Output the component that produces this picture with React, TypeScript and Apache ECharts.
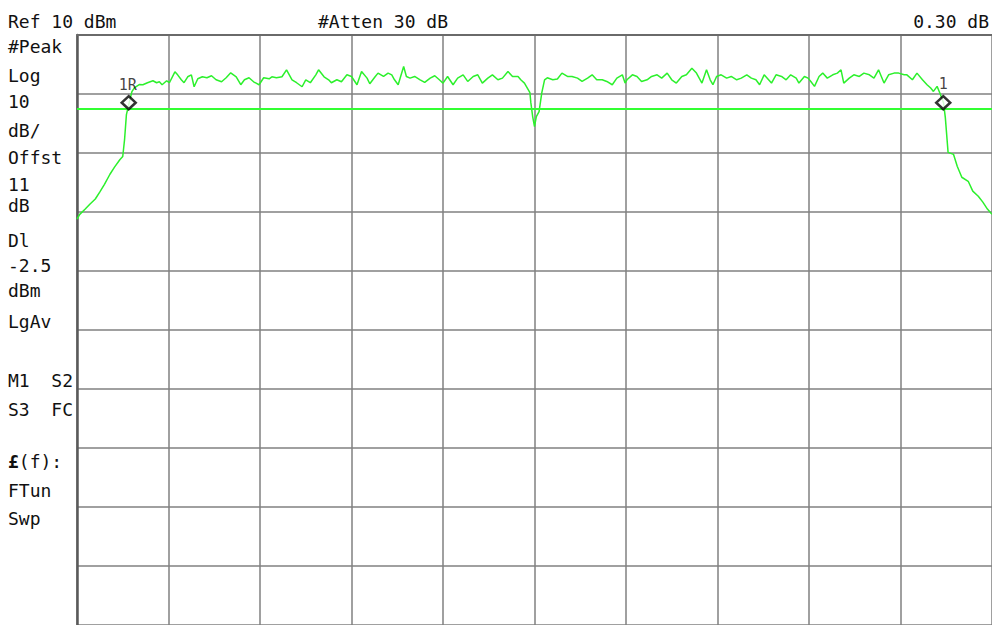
import React, { useEffect, useRef } from "react";
import * as echarts from "echarts";

// Frequency position across the 10-division span (0..1000 span units)
const FREQ = [
  0, 3, 9, 14, 20, 25, 30, 36, 41, 47, 50, 52, 54, 57, 60, 63, 68,
  72, 77, 83, 87, 90, 93, 98, 101, 107, 110, 114, 117, 121, 125, 128, 132, 137, 142, 147, 152, 158, 163, 168, 174, 179, 183, 188, 193, 199, 204, 210, 213, 218, 224, 229, 235, 240, 246, 250, 255, 261, 264, 270, 275, 278, 284, 289,
  295, 300, 306, 311, 317, 320, 326, 329, 335, 340, 344, 347, 351, 357, 360, 364, 369, 375, 380, 386, 391, 396, 400, 405, 411, 416, 422, 427, 433, 438, 443, 449, 454, 460, 465, 471, 476, 482, 485, 489,
  495, 496, 498, 500, 502, 505, 508, 511, 514,
  520, 525, 530, 536, 541, 547, 552, 558, 563, 568, 574, 579, 585, 590, 596, 599,
  601, 607, 612, 617, 623, 628, 634, 639, 645, 650, 655, 661, 666, 672, 677, 683, 688, 692, 695, 699, 704, 710, 715, 721, 726, 732, 737, 742, 746, 751,
  759, 764, 770, 775, 780, 786, 789, 795, 799, 802, 806, 811, 815, 820, 826, 831, 835, 838, 844, 849, 855, 860, 866, 871, 876, 882, 887, 893, 898, 904, 907, 913, 918, 924, 929, 933, 936, 940, 943,
  947, 949, 952, 958, 962, 967, 974, 979, 985, 990, 995, 1000,
];

// Trace level in dBm
const LEVEL = [
  -21.2, -20.4, -19.5, -18.7, -17.8, -16.6, -15.3, -13.6, -12.4, -11.1, -10.6, -7.7, -3.5, -1.5, 0.4, 1.1, 1.6,
  1.57, 1.91, 2.24, 1.91, 2.07, 1.57, 2.24, 1.91, 3.76, 3.25, 2.41, 1.91, 2.92, 3.25, 1.23, 2.58, 2.92, 2.75, 3.09, 2.41, 2.07, 2.75, 3.59, 2.92, 1.57, 2.41, 2.75, 2.07, 1.57, 2.75, 2.58, 2.92, 2.75, 2.92, 4.1, 2.41, 1.91, 1.23, 2.41, 1.91, 3.25, 4.1, 2.92, 2.41, 1.91, 2.41, 2.07,
  3.25, 2.97, 1.57, 3.81, 2.69, 1.74, 2.97, 3.54, 2.97, 3.54, 3.25, 2.41, 1.57, 4.65, 2.97, 2.69, 2.97, 2.41, 1.96, 2.69, 3.09, 2.41, 1.85, 2.97, 1.57, 2.69, 3.25, 2.13, 2.97, 3.25, 1.85, 2.69, 3.25, 2.41, 2.69, 3.81, 2.97, 2.97, 2.41, 1.85,
  0.22, -1.47, -3.83, -5.51, -3.83, -2.98, 0.22, 2.41, 2.75,
  2.41, 2.53, 3.54, 2.97, 2.97, 2.69, 2.13, 2.69, 3.25, 2.41, 2.41, 2.13, 1.57, 2.69, 3.25, 1.85,
  2.41, 3.25, 2.97, 2.13, 2.41, 2.97, 3.25, 2.69, 3.54, 2.41, 1.85, 2.97, 3.25, 4.38, 3.54, 1.85, 4.1, 2.41, 1.57, 2.97, 3.25, 2.69, 2.97, 2.41, 2.69, 3.25, 2.69, 2.41, 1.57, 3.25,
  1.85, 3.25, 2.97, 2.41, 3.25, 2.69, 1.85, 2.97, 2.69, 2.13, 1.29, 2.97, 3.54, 2.69, 3.25, 3.54, 4.1, 1.85, 2.69, 3.25, 2.97, 3.54, 3.25, 2.69, 4.1, 1.85, 3.25, 3.54, 3.54, 3.25, 3.25, 2.41, 3.54, 2.41, 1.57, 1.01, 0.44, 1.29, 0.17,
  -1.47, -4.0, -9.9, -10.24, -12.26, -14.11, -14.79, -16.47, -17.32, -18.33, -19.51, -20.4,
];

const MARKER_FREQ = [56.5, 946.7];
const MARKER_LEVEL = [-1.47, -1.47];
const MARKER_NAMES = ["1R", "1"];

const DISPLAY_LINE = -2.5; // dBm
const REF_LEVEL = 10; // dBm
const DB_PER_DIV = 10;

const HEADER_LEFT = "Ref 10 dBm";
const HEADER_MID = "#Atten 30 dB";
const HEADER_RIGHT = "0.30 dB";

const SIDE_TEXT = [
  "#Peak", "Log", "10", "dB/", "Offst", "11", "dB", "Dl", "-2.5", "dBm", "LgAv",
  "M1  S2", "S3  FC", "£(f):", "FTun", "Swp",
];
const SIDE_Y = [46, 75, 101, 130, 157, 184, 205, 240, 265, 290, 321, 380, 409, 461, 490, 518];

const FONT = "DejaVu Sans Mono";

export default function App() {
  const ref = useRef<HTMLDivElement>(null);

  useEffect(() => {
    if (!ref.current) return;
    const chart = echarts.init(ref.current, undefined, { renderer: "svg" });

    const trace = FREQ.map((f, i) => [f, LEVEL[i]]);
    const markers = MARKER_FREQ.map((f, i) => ({
      value: [f, MARKER_LEVEL[i]],
      label: { formatter: MARKER_NAMES[i], offset: i === 0 ? [-1, 0] : [0, -1] },
    }));

    const textStyle = (t: string) => ({
      text: t,
      fontSize: 18,
      fontFamily: FONT,
      fill: "#111",
      verticalAlign: "middle",
      align: "left",
    });

    const graphic: any[] = [
      { type: "text", x: 8, y: 21, style: textStyle(HEADER_LEFT) },
      { type: "text", x: 318, y: 21, style: textStyle(HEADER_MID) },
      { type: "text", x: 989, y: 21, style: { ...textStyle(HEADER_RIGHT), align: "right" } },
    ];
    SIDE_TEXT.forEach((t, i) => {
      if (t.startsWith("£")) {
        graphic.push({
          type: "text",
          x: 8,
          y: SIDE_Y[i],
          style: {
            ...textStyle(""),
            text: "{b|£}" + t.slice(1),
            rich: { b: { fontWeight: "bold", fontSize: 18, fontFamily: FONT, fill: "#111" } },
          },
        });
      } else {
        graphic.push({ type: "text", x: 8, y: SIDE_Y[i], style: textStyle(t) });
      }
    });

    const gridLine = { color: "#808080", width: 1.5 };

    chart.setOption({
      animation: false,
      backgroundColor: "#ffffff",
      grid: { left: 77, top: 35, width: 920, height: 594, containLabel: false },
      xAxis: {
        type: "value",
        min: 0,
        max: 1000,
        interval: 100,
        position: "top",
        axisLine: { show: true, onZero: false, lineStyle: { color: "#6a6a6a", width: 2 } },
        axisTick: { show: false },
        axisLabel: { show: false },
        splitLine: { show: true, lineStyle: gridLine },
      },
      yAxis: {
        type: "value",
        min: REF_LEVEL - 10 * DB_PER_DIV,
        max: REF_LEVEL,
        interval: DB_PER_DIV,
        axisLine: { show: true, onZero: false, lineStyle: { color: "#5a5a5a", width: 2.5 } },
        axisTick: { show: false },
        axisLabel: { show: false },
        splitLine: { show: true, lineStyle: gridLine },
      },
      series: [
        {
          type: "line",
          data: trace,
          symbol: "none",
          clip: true,
          lineStyle: { color: "#2cf02c", width: 1.5 },
          z: 3,
          markLine: {
            silent: true,
            symbol: ["none", "none"],
            label: { show: false },
            lineStyle: { color: "#33ff33", width: 2, type: "solid" },
            data: [{ yAxis: DISPLAY_LINE }],
          },
        },
        {
          type: "scatter",
          data: markers,
          symbol: "diamond",
          symbolSize: [14, 13],
          itemStyle: { color: "#ffffff", borderColor: "#000000", borderWidth: 2.5 },
          label: {
            show: true,
            position: "top",
            distance: 2,
            color: "#111",
            fontFamily: FONT,
            fontSize: 15,
          },
          z: 5,
        },
      ],
      graphic,
    });

    return () => chart.dispose();
  }, []);

  return (
    <div
      ref={ref}
      style={{ position: "fixed", left: 0, top: 0, width: 992, height: 625, background: "#fff" }}
    />
  );
}
